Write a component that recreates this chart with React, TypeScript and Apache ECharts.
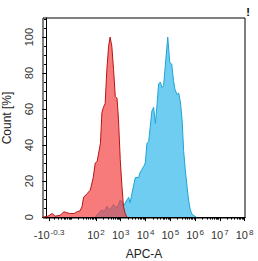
import React, { useEffect, useRef } from "react";
import * as echarts from "echarts";

// x positions are in "display decades" of the biexponential APC-A axis
const redX = [-0.14, 0.06, 0.23, 0.35, 0.55, 0.71, 0.79, 0.96, 1.12, 1.24, 1.36, 1.44, 1.5, 1.64, 1.77, 1.89, 1.97, 2.05, 2.18, 2.24, 2.3, 2.37, 2.44, 2.51, 2.57, 2.64, 2.71, 2.78, 2.85, 2.91, 2.98, 3.05, 3.11, 3.18, 3.25];
const redY = [0, 0.5, 2, 0.5, 1, 3, 2.5, 2, 2, 3, 3.5, 6, 11, 13, 15, 22, 30, 31, 41, 58, 61, 63, 82, 95, 100, 95, 82, 67, 66, 54, 32, 17, 6, 2, 0];

const blueX = [1.97, 2.09, 2.24, 2.33, 2.44, 2.57, 2.71, 2.85, 2.98, 3.06, 3.11, 3.25, 3.32, 3.38, 3.45, 3.59, 3.72, 3.79, 3.92, 3.99, 4.06, 4.13, 4.19, 4.26, 4.33, 4.4, 4.47, 4.53, 4.6, 4.67, 4.73, 4.8, 4.9, 4.98, 5.06, 5.13, 5.19, 5.28, 5.34, 5.41, 5.48, 5.54, 5.61, 5.68, 5.74, 5.81, 5.88, 5.94, 6.02, 6.06];
const blueY = [0, 2, 4, 3, 6, 4, 7, 5, 9.5, 8, 6, 9.5, 11, 8, 13, 22, 22, 25, 28, 30, 41, 42, 50, 59, 61, 52, 63, 74, 75, 72, 73, 84, 100, 86, 85, 76, 71, 68, 69, 64, 54, 37, 26, 17, 9.5, 4, 1.5, 1, 0.3, 0];

const xMajorPos = [0.105, 2, 3, 4, 5, 6, 7, 8];
const xMajorBase = ["-10", "10", "10", "10", "10", "10", "10", "10"];
const xMajorExp = ["-0.3", "2", "3", "4", "5", "6", "7", "8"];
const xMinorMultipliers = [2, 3, 4, 5, 6, 7, 8, 9];
const xMinorDecades = [0, 1, 2, 3, 4, 5, 6, 7];

const yMajor = [0, 20, 40, 60, 80, 100];
const yMinor = [5, 10, 15, 25, 30, 35, 45, 50, 55, 65, 70, 75, 85, 90, 95, 105, 110];

const FONT = "Liberation Sans, Arial, sans-serif";

export default function App() {
  const ref = useRef<HTMLDivElement>(null);
  useEffect(() => {
    if (!ref.current) return;
    const chart = echarts.init(ref.current, null, { renderer: "svg" });
    const xMinor: number[] = [1];
    xMinorDecades.forEach((d) =>
      xMinorMultipliers.forEach((k) => {
        const u = d + Math.log10(k);
        if (u > 0.2) xMinor.push(u);
      })
    );
    const grid = {
      left: 43,
      top: 18,
      width: 202,
      height: 200,
      show: true,
      borderColor: "#000",
      borderWidth: 1,
      backgroundColor: "transparent",
      containLabel: false,
      outerBoundsMode: "none",
    };
    const xRange = { min: -0.14, max: 8.02 };
    const yRange = { min: -0.5, max: 110.6 };
    chart.setOption({
      animation: false,
      backgroundColor: "#fff",
      textStyle: { fontFamily: FONT },
      grid,
      xAxis: [
        {
          type: "value",
          ...xRange,
          name: "APC-A",
          nameLocation: "middle",
          nameGap: 30,
          nameTextStyle: { color: "#222", fontSize: 12, fontFamily: FONT },
          axisLine: { show: true, lineStyle: { color: "#000", width: 1 } },
          axisTick: { show: true, length: 4, customValues: xMajorPos, lineStyle: { color: "#000" } },
          splitLine: { show: false },
          axisLabel: {
            customValues: xMajorPos,
            margin: 10,
            color: "#333",
            formatter: (v: number) => {
              let idx = 0;
              let best = 1e9;
              xMajorPos.forEach((p, i) => {
                if (Math.abs(p - v) < best) {
                  best = Math.abs(p - v);
                  idx = i;
                }
              });
              return "{b|" + xMajorBase[idx] + "}{s|" + xMajorExp[idx] + "}";
            },
            rich: {
              b: { fontSize: 11, color: "#333", fontFamily: FONT, lineHeight: 14 },
              s: { fontSize: 8, color: "#333", fontFamily: FONT, lineHeight: 6, verticalAlign: "top", padding: [0, 0, 0, 1] },
            },
          },
        },
        {
          type: "value",
          ...xRange,
          position: "bottom",
          axisLine: { show: false },
          axisTick: { show: true, length: 2.5, customValues: xMinor, lineStyle: { color: "#000" } },
          axisLabel: { show: false },
          splitLine: { show: false },
        },
      ],
      yAxis: [
        {
          type: "value",
          ...yRange,
          name: "Count [%]",
          nameLocation: "middle",
          nameGap: 30,
          nameTextStyle: { color: "#222", fontSize: 12, fontFamily: FONT },
          axisLine: { show: true, lineStyle: { color: "#000", width: 1 } },
          axisTick: { show: true, length: 4, customValues: yMajor, lineStyle: { color: "#000" } },
          splitLine: { show: false },
          axisLabel: { customValues: yMajor, rotate: 90, margin: 9, color: "#333", fontSize: 11, fontFamily: FONT },
        },
        {
          type: "value",
          ...yRange,
          position: "left",
          axisLine: { show: false },
          axisTick: { show: true, length: 2.5, customValues: yMinor, lineStyle: { color: "#000" } },
          axisLabel: { show: false },
          splitLine: { show: false },
        },
      ],
      graphic: [
        {
          type: "text",
          right: 8,
          top: 6,
          style: { text: "!", fontSize: 11, fontWeight: "bold", fill: "#000", fontFamily: FONT },
        },
      ],
      series: [
        {
          type: "line",
          name: "APC",
          data: blueX.map((x, i) => [x, blueY[i]]),
          showSymbol: false,
          lineStyle: { color: "#1fa4d6", width: 1 },
          areaStyle: { color: "#6fcdf2", opacity: 1 },
          z: 2,
        },
        {
          type: "line",
          name: "Control",
          data: redX.map((x, i) => [x, redY[i]]),
          showSymbol: false,
          lineStyle: { color: "#b81515", width: 1 },
          areaStyle: { color: "rgba(245,60,60,0.68)", opacity: 1 },
          z: 3,
        },
      ],
    });
    return () => chart.dispose();
  }, []);
  return <div ref={ref} style={{ position: "fixed", left: 0, top: 0, width: 258, height: 261 }} />;
}
